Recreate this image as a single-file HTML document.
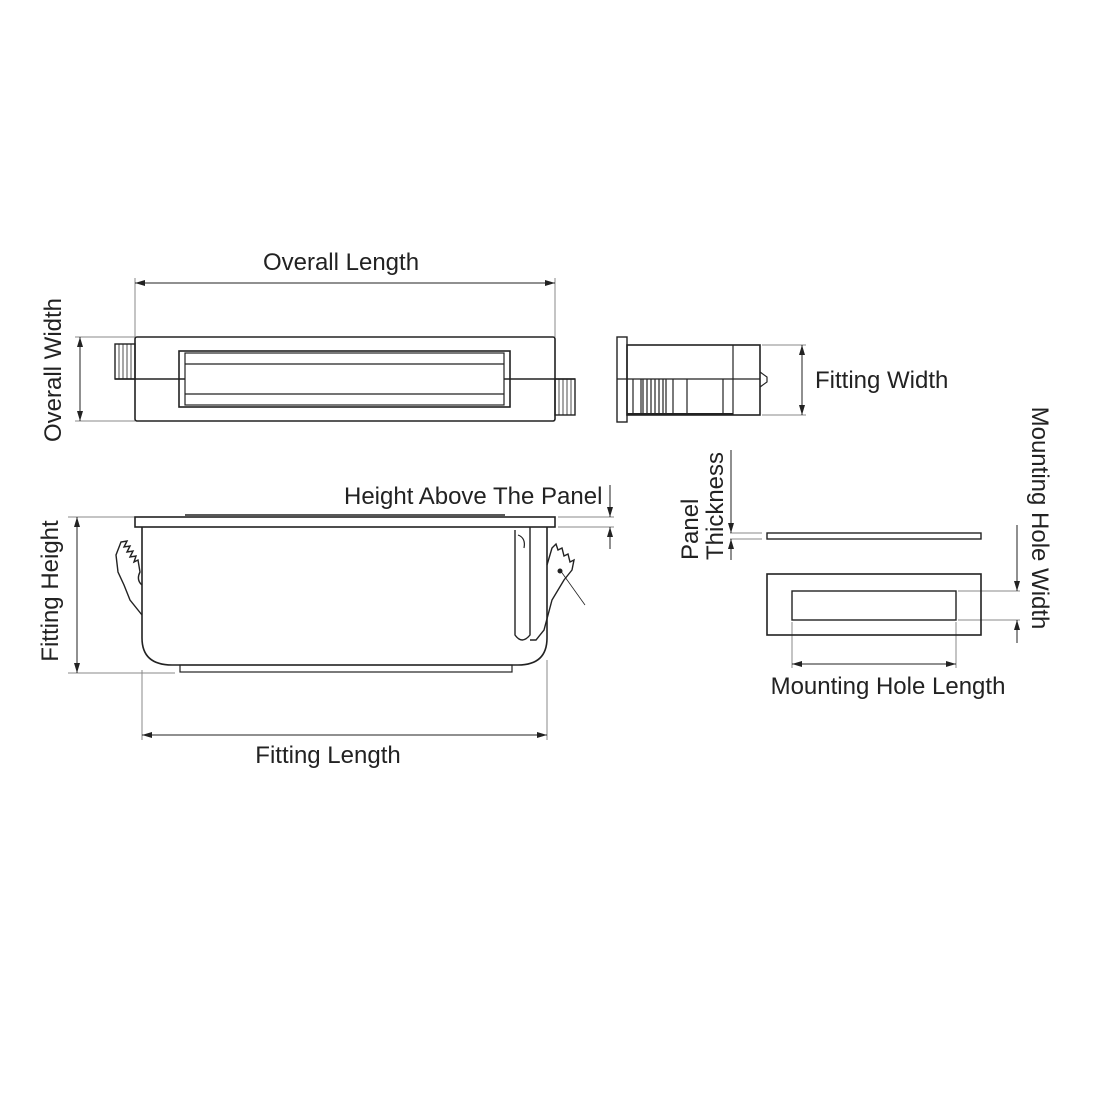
<!DOCTYPE html>
<html><head><style>html,body{margin:0;padding:0;background:#fff}svg{display:block}text{font-family:"Liberation Sans",sans-serif;font-size:24px;fill:#222}</style></head>
<body>
<svg width="1100" height="1100" viewBox="0 0 1100 1100" xmlns="http://www.w3.org/2000/svg">
<defs>
<marker id="a" viewBox="0 0 10 6" refX="10" refY="3" markerWidth="10" markerHeight="6" orient="auto-start-reverse" markerUnits="userSpaceOnUse"><path d="M0,0L10,3L0,6z" fill="#222"/></marker>
</defs>
<g stroke="#222" fill="none">
<!-- Top view -->
<g stroke-width="1" stroke="#888"><line x1="135" y1="278" x2="135" y2="337"/><line x1="555" y1="278" x2="555" y2="337"/><line x1="75" y1="337" x2="135" y2="337"/><line x1="75" y1="421" x2="135" y2="421"/></g>
<line x1="135" y1="283" x2="555" y2="283" stroke-width="1" marker-start="url(#a)" marker-end="url(#a)"/>
<line x1="80" y1="337" x2="80" y2="421" stroke-width="1" marker-start="url(#a)" marker-end="url(#a)"/>
<rect x="135" y="337" width="420" height="84" rx="2" stroke-width="1.6"/>
<rect x="115" y="344" width="20" height="35" stroke-width="1.4"/>
<rect x="555" y="379" width="20" height="36" stroke-width="1.4"/>
<g stroke-width="0.8"><path d="M119 344V379M123 344V379M127 344V379M131 344V379M559 379V415M563 379V415M567 379V415M571 379V415"/></g>
<rect x="179" y="351" width="331" height="56" stroke-width="1.6"/>
<rect x="185" y="353" width="319" height="52" stroke-width="1.2"/>
<line x1="185" y1="364" x2="504" y2="364" stroke-width="1.2"/>
<line x1="185" y1="394" x2="504" y2="394" stroke-width="1.2"/>
<line x1="115" y1="379" x2="185" y2="379" stroke-width="1.4"/>
<line x1="504" y1="379" x2="575" y2="379" stroke-width="1.4"/>
<!-- side view -->
<rect x="617" y="337" width="10" height="85" stroke-width="1.4"/>
<rect x="627" y="345" width="133" height="70" stroke-width="1.6"/>
<line x1="733" y1="345" x2="733" y2="415" stroke-width="1.2"/>
<line x1="617" y1="379" x2="760" y2="379" stroke-width="1.2"/>
<path d="M760 372L767 377V382L760 387" stroke-width="1.2"/>
<g stroke-width="1.2"><path d="M633 379V415M641 379V415M643 379V415M647 379V415M651 379V415M655 379V415M659 379V415M663 379V415M666 379V415M673 379V415M687 379V415M723 379V415"/></g>
<line x1="627" y1="414" x2="733" y2="414" stroke-width="2"/>
<g stroke-width="1" stroke="#888"><line x1="762" y1="345" x2="806" y2="345"/><line x1="762" y1="415" x2="806" y2="415"/></g>
<line x1="802" y1="345" x2="802" y2="415" stroke-width="1" marker-start="url(#a)" marker-end="url(#a)"/>
<!-- front view -->
<g stroke-width="1" stroke="#888"><line x1="68" y1="517" x2="135" y2="517"/><line x1="68" y1="673" x2="175" y2="673"/><line x1="142" y1="670" x2="142" y2="740"/><line x1="547" y1="660" x2="547" y2="740"/><line x1="558" y1="517" x2="614" y2="517"/><line x1="558" y1="527" x2="614" y2="527"/></g>
<line x1="77" y1="517" x2="77" y2="673" stroke-width="1" marker-start="url(#a)" marker-end="url(#a)"/>
<line x1="142" y1="735" x2="547" y2="735" stroke-width="1" marker-start="url(#a)" marker-end="url(#a)"/>
<line x1="610" y1="485" x2="610" y2="517" stroke-width="1" marker-end="url(#a)"/>
<line x1="610" y1="549" x2="610" y2="527" stroke-width="1" marker-end="url(#a)"/>
<rect x="135" y="517" width="420" height="10" stroke-width="1.6"/>
<line x1="185" y1="515" x2="505" y2="515" stroke-width="1.4"/>
<path d="M142 527V638Q142 665 172 665H518Q547 665 547 638V527" stroke-width="1.6"/>
<rect x="180" y="665" width="332" height="7" stroke-width="1.2"/>
<path d="M515 530V635Q522 645 530 635V527" stroke-width="1.4"/>
<path d="M518 535Q526 538 524 548" stroke-width="1.2"/>
<path d="M142 585Q136 580 140 572L138 560L134 562L136 556L130 557L133 551L127 552L130 546L124 547L127 541L121 542L116 555L118 572L124 585L130 600L142 615" stroke-width="1.4"/>
<path d="M547 565L552 548L556 544L558 550L562 548L564 556L568 554L570 562L574 560L572 570L564 580L552 600L544 630L536 640L530 640" stroke-width="1.4"/>
<path d="M560 570L585 605" stroke-width="0.8"/>
<circle cx="560" cy="571" r="2" fill="#222"/>
<!-- right side -->
<rect x="767" y="533" width="214" height="6" stroke-width="1.4"/>
<g stroke-width="1" stroke="#888"><line x1="730" y1="533" x2="762" y2="533"/><line x1="730" y1="539" x2="762" y2="539"/><line x1="958" y1="591" x2="1020" y2="591"/><line x1="958" y1="620" x2="1020" y2="620"/><line x1="792" y1="622" x2="792" y2="668"/><line x1="956" y1="622" x2="956" y2="668"/></g>
<line x1="731" y1="450" x2="731" y2="533" stroke-width="1" marker-end="url(#a)"/>
<line x1="731" y1="560" x2="731" y2="539" stroke-width="1" marker-end="url(#a)"/>
<rect x="767" y="574" width="214" height="61" stroke-width="1.6"/>
<rect x="792" y="591" width="164" height="29" stroke-width="1.4"/>
<line x1="1017" y1="525" x2="1017" y2="591" stroke-width="1" marker-end="url(#a)"/>
<line x1="1017" y1="643" x2="1017" y2="620" stroke-width="1" marker-end="url(#a)"/>
<line x1="792" y1="664" x2="956" y2="664" stroke-width="1" marker-start="url(#a)" marker-end="url(#a)"/>
</g>
<text x="341" y="270" text-anchor="middle">Overall Length</text>
<text transform="translate(61,370) rotate(-90)" text-anchor="middle">Overall Width</text>
<text x="815" y="388">Fitting Width</text>
<text x="344" y="504">Height Above The Panel</text>
<text transform="translate(58,591) rotate(-90)" text-anchor="middle">Fitting Height</text>
<text x="328" y="763" text-anchor="middle">Fitting Length</text>
<text transform="translate(698,560) rotate(-90)">Panel</text>
<text transform="translate(723,560) rotate(-90)">Thickness</text>
<text transform="translate(1032,518) rotate(90)" text-anchor="middle">Mounting Hole Width</text>
<text x="888" y="694" text-anchor="middle">Mounting Hole Length</text>
</svg>
</body></html>
